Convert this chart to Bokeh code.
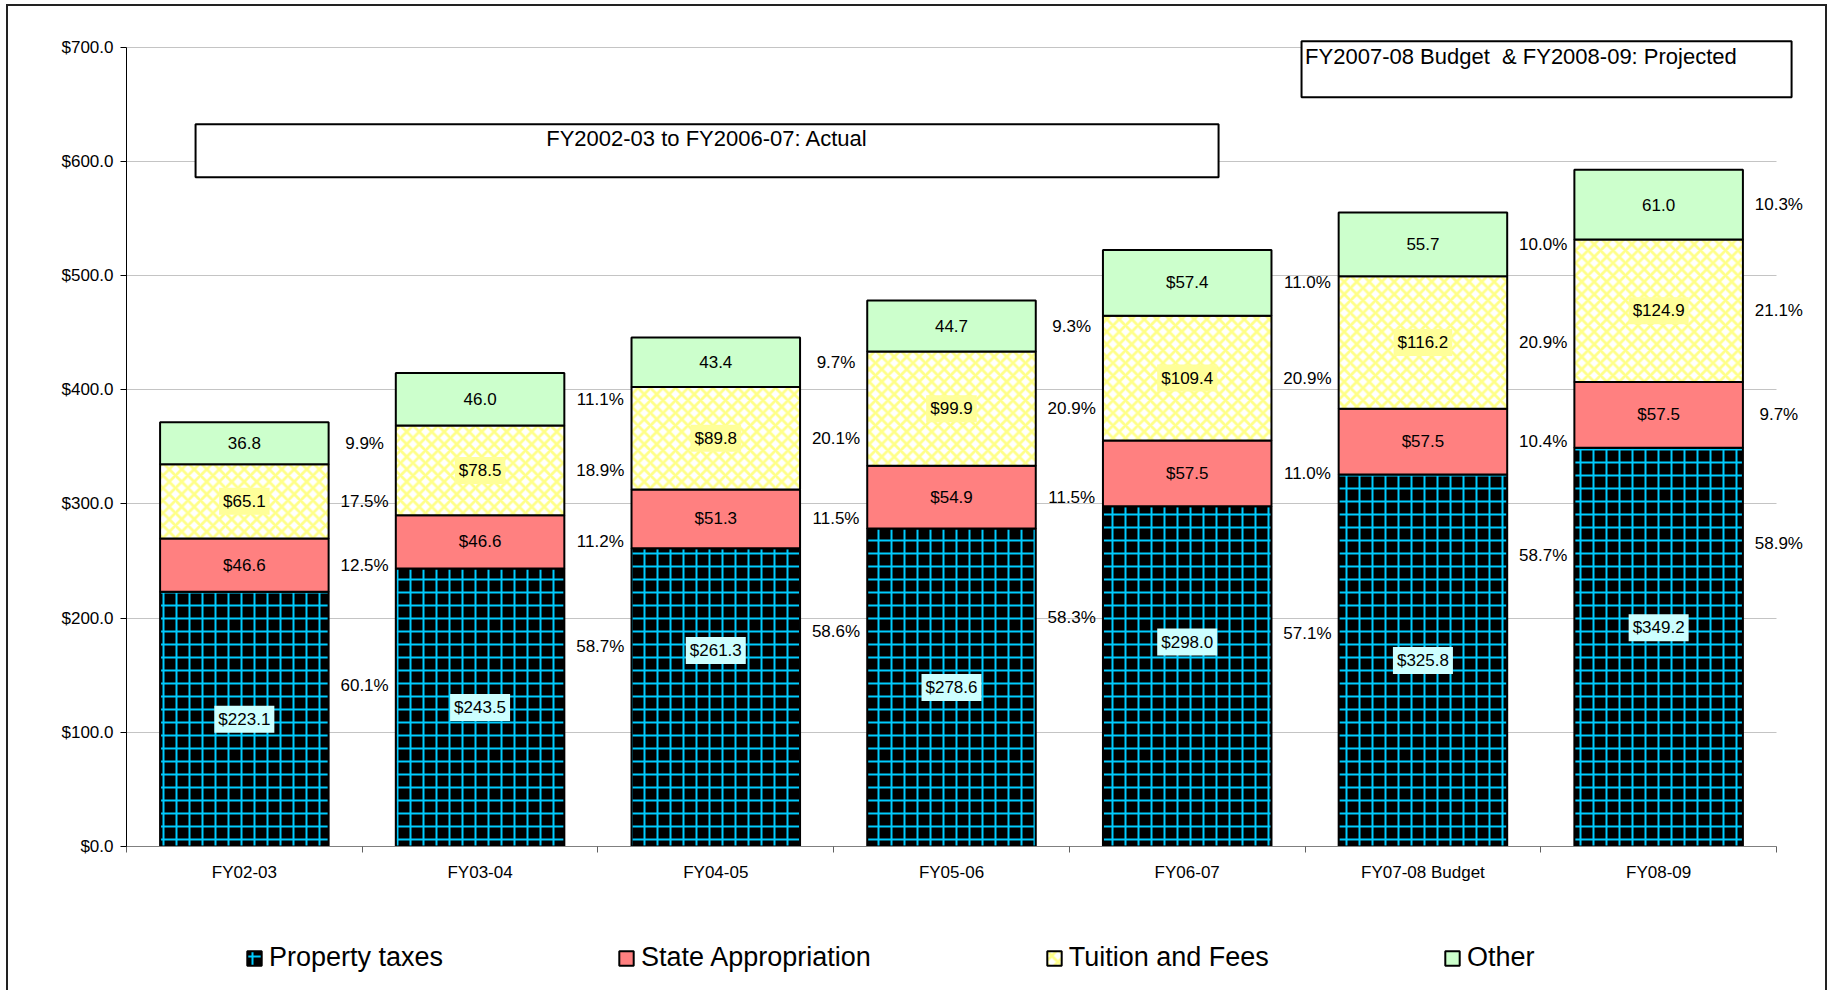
import numpy as np
from bokeh.plotting import figure
from bokeh.layouts import column
from bokeh.models import (ColumnDataSource, Range1d, FixedTicker, NumeralTickFormatter,
                          BoxAnnotation, Label, Legend, LegendItem)
from bokeh.core.properties import value
from bokeh.embed import file_html
from bokeh.resources import INLINE

# ---------------- data ----------------
categories = ["FY02-03", "FY03-04", "FY04-05", "FY05-06", "FY06-07", "FY07-08 Budget", "FY08-09"]
property_taxes = [223.1, 243.5, 261.3, 278.6, 298.0, 325.8, 349.2]
state_appropriation = [46.6, 46.6, 51.3, 54.9, 57.5, 57.5, 57.5]
tuition_fees = [65.1, 78.5, 89.8, 99.9, 109.4, 116.2, 124.9]
other = [36.8, 46.0, 43.4, 44.7, 57.4, 55.7, 61.0]
other_labels = ["36.8", "46.0", "43.4", "44.7", "$57.4", "55.7", "61.0"]
pct_property = ["60.1%", "58.7%", "58.6%", "58.3%", "57.1%", "58.7%", "58.9%"]
pct_state = ["12.5%", "11.2%", "11.5%", "11.5%", "11.0%", "10.4%", "9.7%"]
pct_tuition = ["17.5%", "18.9%", "20.1%", "20.9%", "20.9%", "20.9%", "21.1%"]
pct_other = ["9.9%", "11.1%", "9.7%", "9.3%", "11.0%", "10.0%", "10.3%"]
series_names = ["Property taxes", "State Appropriation", "Tuition and Fees", "Other"]
y_ticks = [0, 100, 200, 300, 400, 500, 600, 700]
note_actual = "FY2002-03 to FY2006-07: Actual"
note_projected = "FY2007-08 Budget\u00a0 & FY2008-09: Projected"

# label nudges (data units) for hand-placed labels
property_value_nudge = [0, 0, 41, 0, 30, 0, 17]
property_pct_nudge = [-20, 0, 0, 0, -28, 20, 14]

FONT = value("Liberation Sans")
n = len(categories)
xc = np.arange(n) + 0.5
pt = np.array(property_taxes)
st = np.array(state_appropriation)
tu = np.array(tuition_fees)
ot = np.array(other)
b1 = pt
b2 = pt + st
b3 = b2 + tu
b4 = b3 + ot

# series styles
STYLES = [
    dict(fill_color="black", hatch_pattern="+", hatch_color="#00CCFF", hatch_scale=13, hatch_weight=2),
    dict(fill_color="#FF8080"),
    dict(fill_color="white", hatch_pattern="x", hatch_color="#FFFF88", hatch_scale=12.5, hatch_weight=2.8),
    dict(fill_color="#CCFFCC"),
]

MAIN_H = 900
FRAME_BOTTOM = 846.0
PX_PER_CAT = 1650.0 / n
PX_PER_UNIT = (FRAME_BOTTOM - 46.7) / 700.0
x_end = (1835.0 - 126.0) / PX_PER_CAT
y_end = FRAME_BOTTOM / PX_PER_UNIT

p = figure(width=1835, height=MAIN_H, output_backend="svg", toolbar_location=None,
           x_range=Range1d(0, x_end), y_range=Range1d(0, y_end),
           min_border_left=126, min_border_right=0, min_border_top=0,
           min_border_bottom=int(MAIN_H - FRAME_BOTTOM))
p.outline_line_color = None
p.background_fill_color = None
p.border_fill_color = None

BW = 0.715
src = ColumnDataSource(dict(x=xc, b0=np.zeros(n), b1=b1, b2=b2, b3=b3, b4=b4))
bounds = [("b0", "b1"), ("b1", "b2"), ("b2", "b3"), ("b3", "b4")]
for (lo, hi), sty in zip(bounds, STYLES):
    p.vbar(x="x", bottom=lo, top=hi, width=BW, source=src, line_color="black", line_width=2, **sty)

# axes
yaxis = p.yaxis[0]
yaxis.ticker = FixedTicker(ticks=y_ticks)
yaxis.formatter = NumeralTickFormatter(format="$0.0")
yaxis.bounds = (0, 700)
yaxis.axis_line_color = "black"
yaxis.major_tick_out = 6
yaxis.major_tick_in = 0
yaxis.minor_tick_line_color = None
yaxis.major_label_standoff = 7
yaxis.major_label_text_font = "Liberation Sans"
yaxis.major_label_text_font_size = "17px"
yaxis.major_label_text_color = "black"

xaxis = p.xaxis[0]
xaxis.ticker = FixedTicker(ticks=list(xc), minor_ticks=list(range(n + 1)))
xaxis.major_label_overrides = {float(x): c for x, c in zip(xc, categories)}
xaxis.bounds = (0, n)
xaxis.axis_line_color = "#808080"
xaxis.major_tick_line_color = None
xaxis.major_tick_out = 6
xaxis.minor_tick_out = 6
xaxis.minor_tick_in = 0
xaxis.minor_tick_line_color = "#606060"
xaxis.major_label_standoff = 10
xaxis.major_label_text_font = "Liberation Sans"
xaxis.major_label_text_font_size = "17px"
xaxis.major_label_text_color = "black"

p.xgrid.grid_line_color = None
p.ygrid.ticker = FixedTicker(ticks=y_ticks)
p.ygrid.cross_bounds = (0, n)
p.ygrid.grid_line_color = "#C4C4C4"
p.ygrid.grid_line_width = 1

# value labels
def add_text(xs, ys, texts, bg=None):
    s = ColumnDataSource(dict(x=list(xs), y=list(ys), t=list(texts)))
    kw = dict(x="x", y="y", text="t", source=s, text_align="center", text_baseline="middle",
              text_font=FONT, text_font_size="17px", text_color="black")
    if bg is not None:
        return p.text(background_fill_color=bg, padding=4, **kw)
    return p.text(**kw)

add_text(xc, pt / 2 + np.array(property_value_nudge), ["$%.1f" % v for v in pt], bg="#CCFFFF")
add_text(xc, b1 + st / 2, ["$%.1f" % v for v in st])
add_text(xc, b2 + tu / 2, ["$%.1f" % v for v in tu], bg="#FFFF99")
add_text(xc, b3 + ot / 2, other_labels)

px = xc + 0.51
add_text(px, pt * 0.72 + np.array(property_pct_nudge), pct_property)
add_text(px, b1 + st / 2, pct_state)
add_text(px, b2 + tu / 2, pct_tuition)
add_text(px, b3 + ot / 2, pct_other)

# note boxes
for l, r, b, t in [(0.293, 4.633, 586.1, 632.6), (4.985, 7.064, 656.2, 705.3)]:
    p.add_layout(BoxAnnotation(left=l, right=r, bottom=b, top=t, fill_color="white", fill_alpha=1,
                               line_color="black", line_alpha=1, line_width=2))
p.add_layout(Label(x=2.463, y=620.3, text=note_actual, text_align="center", text_baseline="middle",
                   text_font="Liberation Sans", text_font_size="22px", text_color="black"))
p.add_layout(Label(x=5.0, y=692.0, text=note_projected, text_align="left", text_baseline="middle",
                   text_font="Liberation Sans", text_font_size="22px", text_color="black"))

# legend strip (separate figure below the chart); its bars lie far outside its view
LEG_H = 990 - MAIN_H
pl = figure(width=1835, height=LEG_H, output_backend="svg", toolbar_location=None,
            x_range=Range1d(-101, -100), y_range=Range1d(1000, 1001), x_axis_type=None, y_axis_type=None,
            min_border_left=0, min_border_right=0, min_border_top=0, min_border_bottom=0)
pl.outline_line_color = None
pl.background_fill_color = None
pl.border_fill_color = None
pl.xgrid.grid_line_color = None
pl.ygrid.grid_line_color = None
items = []
for name, (lo, hi), sty in zip(series_names, bounds, STYLES):
    rr = pl.vbar(x="x", bottom=lo, top=hi, width=BW, source=src, line_color="black",
                 line_width=2, **sty)
    items.append(LegendItem(label=name, renderers=[rr]))
legend = Legend(items=items, orientation="horizontal", location=(119, 17),
                glyph_width=18, glyph_height=18, label_standoff=6, spacing=174,
                padding=0, margin=0, border_line_color=None, background_fill_alpha=0,
                label_text_font="Liberation Sans", label_text_font_size="27px",
                label_text_color="black")
pl.add_layout(legend)

layout = column(p, pl, spacing=0)
# outer chart border (left, top, right) drawn behind the transparent canvases
layout.styles = {
    "background-color": "white",
    "background-image": "linear-gradient(#222,#222), linear-gradient(#222,#222), linear-gradient(#222,#222)",
    "background-size": "2px 100%, 1821px 2px, 2px 100%",
    "background-position": "6px 4px, 6px 4px, 1825px 4px",
    "background-repeat": "no-repeat",
}

open("out.html", "w").write(file_html(layout, INLINE))
